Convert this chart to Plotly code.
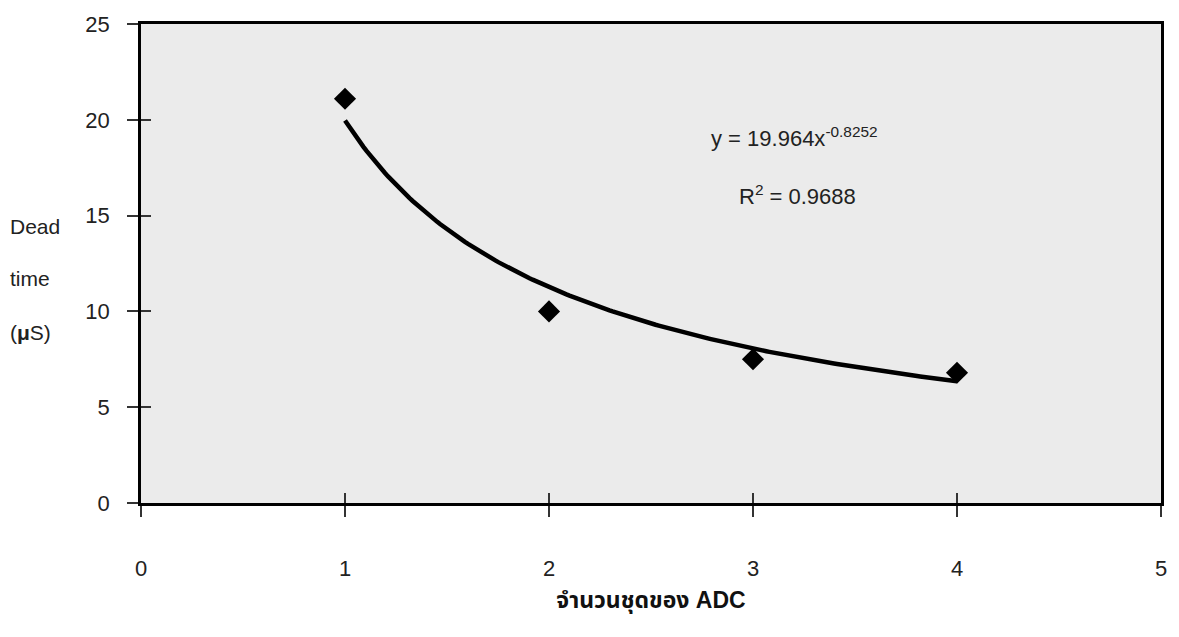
import numpy as np
import plotly.graph_objects as go

# Measured dead time for each number of ADC sets
adc_sets = [1, 2, 3, 4]
dead_time = [21.1, 10.0, 7.5, 6.8]

# Power-law trend line y = a * x^b
fit_a = 19.964
fit_b = -0.8252
r_squared = 0.9688

x_ticks = [0, 1, 2, 3, 4, 5]
y_ticks = [0, 5, 10, 15, 20, 25]

font_main = "Liberation Sans, Arial, sans-serif"
font_thai = "Liberation Sans, Noto Sans Thai, Loma, sans-serif"

x_fit = np.linspace(min(adc_sets), max(adc_sets), 200)
y_fit = fit_a * x_fit ** fit_b

fig = go.Figure()

fig.add_trace(go.Scatter(
    x=x_fit, y=y_fit, mode="lines",
    line=dict(color="black", width=4.5),
    hoverinfo="skip", showlegend=False,
))
fig.add_trace(go.Scatter(
    x=adc_sets, y=dead_time, mode="markers",
    marker=dict(symbol="diamond", size=17, color="black"),
    showlegend=False,
))
# invisible trace on the secondary axes so the inner tick marks render
fig.add_trace(go.Scatter(
    x=[0], y=[0], xaxis="x2", yaxis="y2", mode="markers",
    marker=dict(opacity=0), hoverinfo="skip", showlegend=False,
))

fig.update_layout(
    width=1179, height=637,
    margin=dict(l=141, r=13, t=22, b=134),
    paper_bgcolor="white",
    plot_bgcolor="#ebebeb",
    font=dict(family=font_main, size=22, color="#222"),
    xaxis=dict(
        range=[0, 5], tickvals=x_ticks, ticks="outside", ticklen=11,
        tickwidth=1.5, tickcolor="#333",
        showline=True, linecolor="black", linewidth=2.5, mirror=True,
        showgrid=False, zeroline=False,
        ticklabelstandoff=33,
        tickfont=dict(size=22, family=font_main, color="#222"),
        title=dict(text="<b>จำนวนชุดของ ADC</b>", standoff=12,
                   font=dict(size=23, family=font_thai, color="#111")),
    ),
    yaxis=dict(
        range=[0, 25], tickvals=y_ticks, ticks="outside", ticklen=11,
        tickwidth=1.5, tickcolor="#333",
        showline=True, linecolor="black", linewidth=2.5, mirror=True,
        showgrid=False, zeroline=False,
        ticklabelstandoff=13,
        tickfont=dict(size=22, family=font_main, color="#222"),
    ),
    xaxis2=dict(
        range=[0, 5], tickvals=x_ticks[1:-1], ticks="inside", ticklen=10,
        tickwidth=1.5, tickcolor="#333", showticklabels=False,
        overlaying="x", showgrid=False, zeroline=False, showline=False,
    ),
    yaxis2=dict(
        range=[0, 25], tickvals=y_ticks[1:-1], ticks="inside", ticklen=10,
        tickwidth=1.5, tickcolor="#333", showticklabels=False,
        overlaying="y", showgrid=False, zeroline=False, showline=False,
    ),
)

# stacked y-axis title lines
for text, ypos in [("Dead", 0.578), ("time", 0.468), ("(<b>μ</b>S)", 0.356)]:
    fig.add_annotation(
        text=text, xref="paper", yref="paper", x=-0.130, y=ypos,
        xanchor="left", yanchor="middle", showarrow=False,
        font=dict(size=21, family=font_main, color="#222"),
    )

# equation and goodness of fit
fig.add_annotation(
    text=f"y = {fit_a}x<sup>{fit_b}</sup>",
    x=2.785, y=19.1, xanchor="left", yanchor="middle", showarrow=False,
    font=dict(size=22, family=font_main, color="#222"),
)
fig.add_annotation(
    text=f"R<sup>2</sup> = {r_squared}",
    x=2.92, y=16.1, xanchor="left", yanchor="middle", showarrow=False,
    font=dict(size=22, family=font_main, color="#222"),
)

fig.write_html("out.html")
